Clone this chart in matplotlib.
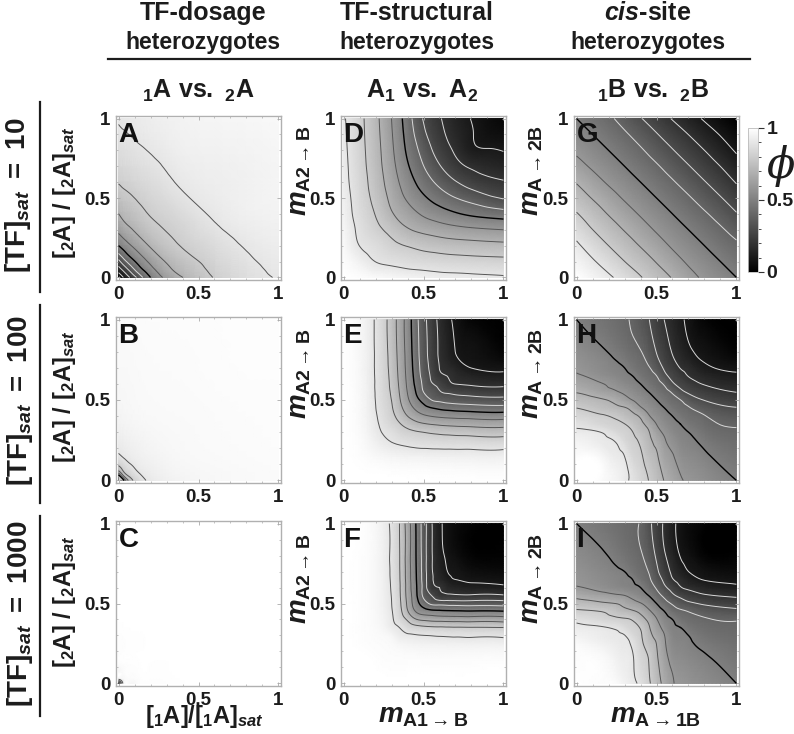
import numpy as np
import matplotlib
matplotlib.use('Agg')
import matplotlib.pyplot as plt
import matplotlib.tri as mtri
from matplotlib.cm import ScalarMappable
from matplotlib.colors import Normalize

plt.rcParams['font.family'] = ['Liberation Sans', 'DejaVu Sans']
plt.rcParams['font.weight'] = 'bold'
plt.rcParams['mathtext.fontset'] = 'custom'
plt.rcParams['mathtext.rm'] = 'Liberation Sans:bold'
plt.rcParams['mathtext.bf'] = 'Liberation Sans:bold'
plt.rcParams['mathtext.it'] = 'Liberation Sans:italic:bold'
plt.rcParams['mathtext.bfit'] = 'Liberation Sans:italic:bold'

# grid positions of the phi tables (same on both axes)
axis_conc = [0, .03, .07, .12, .2, .35, .6, 1]
axis_even = [0, .1, .2, .3, .4, .5, .6, .7, .8, .9, 1]
axis_fine = [0, .15, .25, .3, .35, .4, .45, .5, .55, .6, .65, .7, .8, 1]

# phi x 1000, lower triangle only, panels are symmetric
phi_a = [[0],
         [100, 175],
         [200, 275, 375],
         [320, 400, 480, 550],
         [500, 540, 590, 640, 710],
         [665, 695, 720, 750, 790, 830],
         [805, 815, 825, 840, 860, 900, 930],
         [905, 910, 915, 920, 930, 945, 960, 975]]
phi_b = [[0],
         [450, 700],
         [740, 820, 870],
         [850, 880, 910, 930],
         [915, 925, 935, 945, 957],
         [950, 955, 960, 965, 970, 975],
         [970, 970, 972, 975, 978, 980, 985],
         [980, 980, 982, 983, 985, 986, 988, 990]]
phi_c = [[400],
         [940, 975],
         [975, 985, 990],
         [985, 990, 993, 995],
         [990, 993, 995, 996, 997],
         [995, 996, 997, 997, 998, 998],
         [997, 997, 998, 998, 998, 999, 999],
         [998, 998, 998, 999, 999, 999, 999, 999]]
phi_d = [[1000],
         [990, 944],
         [978, 899, 865],
         [965, 880, 825, 769],
         [953, 864, 796, 710, 643],
         [942, 853, 772, 675, 586, 515],
         [930, 844, 756, 650, 546, 454, 374],
         [925, 838, 744, 631, 511, 402, 307, 231],
         [920, 833, 737, 618, 483, 362, 257, 186, 120],
         [915, 829, 731, 608, 463, 322, 226, 161, 106, 70],
         [910, 826, 726, 600, 447, 292, 208, 144, 97, 60, 30]]
phi_e = [[1000],
         [999, 982],
         [999, 965, 912],
         [999, 957, 894, 875],
         [999, 952, 878, 843, 807],
         [998, 948, 866, 822, 767, 700],
         [998, 945, 857, 809, 732, 651, 585],
         [998, 944, 851, 799, 710, 616, 535, 464],
         [998, 942, 847, 788, 696, 597, 503, 400, 356],
         [998, 941, 843, 780, 686, 585, 482, 379, 309, 268],
         [997, 940, 841, 774, 679, 577, 468, 364, 286, 220, 199],
         [997, 939, 838, 769, 674, 571, 459, 354, 272, 199, 174, 148],
         [996, 938, 835, 763, 667, 564, 448, 343, 258, 188, 143, 99, 73],
         [995, 937, 831, 756, 660, 556, 437, 333, 248, 178, 122, 82, 20, 10]]
phi_f = [[1000],
         [1000, 1000],
         [1000, 989, 982],
         [1000, 987, 976, 962],
         [1000, 986, 961, 927, 899],
         [1000, 986, 953, 913, 855, 787],
         [1000, 986, 948, 906, 831, 710, 600],
         [1000, 985, 944, 901, 820, 682, 550, 450],
         [999, 985, 942, 898, 813, 670, 530, 383, 300],
         [999, 985, 941, 894, 810, 664, 521, 368, 226, 200],
         [999, 985, 940, 891, 807, 660, 516, 362, 217, 162, 119],
         [999, 985, 939, 889, 805, 658, 513, 359, 213, 144, 100, 90],
         [999, 985, 937, 887, 803, 655, 509, 356, 211, 129, 85, 60, 20],
         [999, 985, 936, 883, 800, 652, 506, 354, 209, 118, 75, 45, 19, 3]]
phi_g = [[1000],
         [957, 910],
         [915, 858, 800],
         [863, 801, 748, 695],
         [806, 750, 695, 642, 591],
         [750, 695, 642, 590, 545, 500],
         [694, 640, 588, 544, 500, 455, 409],
         [635, 586, 543, 500, 455, 410, 358, 305],
         [583, 542, 500, 456, 411, 359, 305, 253, 200],
         [542, 500, 457, 413, 362, 306, 252, 199, 144, 95],
         [500, 458, 417, 365, 306, 250, 194, 139, 90, 45, 0]]
phi_h = [[1000],
         [985, 970],
         [949, 918, 893],
         [918, 900, 851, 827],
         [883, 843, 816, 802, 766],
         [842, 813, 782, 753, 723, 685],
         [800, 754, 723, 707, 669, 611, 571],
         [747, 713, 670, 635, 599, 566, 533, 500],
         [695, 643, 608, 585, 556, 528, 500, 464, 429],
         [653, 607, 567, 544, 522, 500, 465, 429, 388, 315],
         [611, 565, 532, 516, 500, 467, 434, 401, 326, 274, 234],
         [589, 545, 515, 500, 470, 440, 410, 352, 288, 241, 197, 173],
         [559, 515, 476, 453, 429, 405, 355, 297, 245, 194, 155, 117, 77],
         [500, 455, 426, 411, 389, 347, 305, 252, 198, 157, 116, 82, 20, 10]]
phi_i = [[1000],
         [988, 983],
         [980, 945, 921],
         [950, 926, 910, 902],
         [921, 907, 887, 857, 827],
         [881, 845, 822, 810, 793, 740],
         [816, 800, 758, 736, 714, 680, 622],
         [744, 717, 698, 668, 637, 607, 556, 500],
         [673, 637, 613, 601, 568, 534, 500, 438, 378],
         [607, 571, 542, 528, 514, 500, 446, 390, 318, 260],
         [589, 551, 525, 513, 500, 457, 415, 350, 276, 206, 173],
         [576, 538, 513, 500, 466, 433, 398, 321, 245, 182, 136, 100],
         [551, 513, 478, 455, 433, 410, 361, 286, 210, 149, 96, 71, 20],
         [500, 462, 437, 424, 411, 393, 327, 256, 184, 119, 79, 50, 19, 3]]

contour_levels = [.1, .2, .3, .4, .5, .6, .7, .8, .9]
contour_colors = ['#d8d8d8', '#d8d8d8', '#d8d8d8', '#d8d8d8', '#000000', '#555555', '#555555', '#555555', '#555555']
contour_widths = [.7, .7, .7, .7, 1.0, .7, .7, .7, .7]

W, H = 794, 734
fig = plt.figure(figsize=(W / 100, H / 100), dpi=100)
DARK = '#1c1c1c'


def px_axes(x0, y0, x1, y1):
    return fig.add_axes([x0 / W, 1 - y1 / H, (x1 - x0) / W, (y1 - y0) / H])


def ftext(x, y, s, **kw):
    kw.setdefault('ha', 'center')
    kw.setdefault('va', 'center')
    kw.setdefault('color', DARK)
    return fig.text(x / W, 1 - y / H, s, **kw)


def unfold(rows):
    n = len(rows)
    z = np.zeros((n, n))
    for i, row in enumerate(rows):
        for j, v in enumerate(row):
            z[i, j] = z[j, i] = v / 1000
    return z


def panel(box, axis, rows, letter):
    ax = px_axes(*box)
    xx, yy = np.meshgrid(axis, axis)
    tr = mtri.Triangulation(xx.ravel(), yy.ravel())
    fine, zf = mtri.UniformTriRefiner(tr).refine_field(unfold(rows).ravel(), subdiv=3)
    zf = np.clip(zf, 0, 1)
    ax.tripcolor(fine, zf, shading='gouraud', cmap='gray', vmin=0, vmax=1)
    ax.tricontour(fine, zf, levels=contour_levels, colors=contour_colors, linewidths=contour_widths)
    ax.set_xlim(-.016, 1.016)
    ax.set_ylim(-.016, 1.016)
    ax.set_xticks([0, .5, 1])
    ax.set_xticklabels(['0', '0.5', '1'])
    ax.set_yticks([0, .5, 1])
    ax.set_yticklabels(['0', '0.5', '1'])
    ax.set_xticks(np.arange(0, 1.01, .1), minor=True)
    ax.set_yticks(np.arange(0, 1.01, .1), minor=True)
    ax.tick_params(which='major', direction='in', length=3, width=.6, color='#aaaaaa', top=True, right=True,
                   labelsize=13.5, labelcolor=DARK, pad=4)
    ax.tick_params(which='minor', direction='in', length=1.5, width=.5, color='#aaaaaa', top=True, right=True)
    for s in ax.spines.values():
        s.set_color('#b0b0b0')
        s.set_linewidth(1)
    ax.text(.015, .965, letter, transform=ax.transAxes, ha='left', va='top', fontsize=20, color='#111111')
    return ax


col_x = [(116, 281), (341, 506), (574, 739)]
row_y = [(116, 280), (317, 483), (521, 686)]
tables = [[(axis_conc, phi_a, 'A'), (axis_even, phi_d, 'D'), (axis_even, phi_g, 'G')],
          [(axis_conc, phi_b, 'B'), (axis_fine, phi_e, 'E'), (axis_fine, phi_h, 'H')],
          [(axis_conc, phi_c, 'C'), (axis_fine, phi_f, 'F'), (axis_fine, phi_i, 'I')]]
for r in range(3):
    for c in range(3):
        axis, rows, letter = tables[r][c]
        panel((col_x[c][0], row_y[r][0], col_x[c][1], row_y[r][1]), axis, rows, letter)

# column headers
ftext(203, 13, 'TF-dosage', fontsize=18)
ftext(417, 13, 'TF-structural', fontsize=18)
ftext(648, 13, r'$\mathit{cis}$-site', fontsize=18)
for x in [203, 417, 648]:
    ftext(x, 42, 'heterozygotes', fontsize=16.5)
fig.add_artist(plt.Line2D([108 / W, 750 / W], [1 - 59 / H, 1 - 59 / H], color=DARK, lw=1.6))

ftext(198, 91, r'$\mathbf{{}_{1}A\ vs.\ {}_{2}A}$', fontsize=18)
ftext(422, 91, r'$\mathbf{A_{1}\ vs.\ A_{2}}$', fontsize=18)
ftext(653, 91, r'$\mathbf{{}_{1}B\ vs.\ {}_{2}B}$', fontsize=18)

# row labels
tf_labels = [r'$\mathbf{[TF]}_{\mathit{sat}}\mathbf{\ =\ 10}$', r'$\mathbf{[TF]}_{\mathit{sat}}\mathbf{\ =\ 100}$',
             r'$\mathbf{[TF]}_{\mathit{sat}}\mathbf{\ =\ 1000}$']
for s, x, y in zip(tf_labels, [18, 20, 20], [195, 400, 614]):
    ftext(x, y, s, fontsize=20, rotation=90)
for y0, y1 in [(102, 292), (305, 503), (516, 716)]:
    fig.add_artist(plt.Line2D([40 / W, 40 / W], [1 - y0 / H, 1 - y1 / H], color=DARK, lw=1.6))

conc_label = r'$\mathbf{[{}_{2}A]\ /\ [{}_{2}A]}_{\mathit{sat}}$'
for y in [193, 397, 602]:
    ftext(65, y, conc_label, fontsize=17, rotation=90)
for y in [171, 374, 579]:
    ftext(300, y, r'$\mathit{m}_{\mathbf{A2\rightarrow B}}$', fontsize=20, rotation=90)
    ftext(532, y, r'$\mathit{m}_{\mathbf{A\rightarrow 2B}}$', fontsize=20, rotation=90)

ftext(204, 717, r'$\mathbf{[{}_{1}A]/[{}_{1}A]}_{\mathit{sat}}$', fontsize=17)
ftext(423, 716, r'$\mathit{m}_{\mathbf{A1\rightarrow B}}$', fontsize=20)
ftext(655, 716, r'$\mathit{m}_{\mathbf{A\rightarrow 1B}}$', fontsize=20)

# colour bar
cax = px_axes(748, 128, 758, 272)
cb = fig.colorbar(ScalarMappable(Normalize(0, 1), 'gray'), cax=cax)
cb.set_ticks([0, .5, 1])
cb.set_ticklabels(['0', '0.5', '1'])
cb.set_ticks(np.arange(0, 1.01, .1), minor=True)
cb.ax.tick_params(which='major', length=4, width=.8, color='#333333', labelsize=14, labelcolor=DARK, pad=2)
cb.ax.tick_params(which='minor', length=2, width=.6, color='#333333')
cb.outline.set_edgecolor('#bbbbbb')
cb.outline.set_linewidth(.6)
ftext(781, 166, '\u03d5', fontsize=30, family='DejaVu Serif', style='italic', weight='normal')

fig.savefig('out.png', dpi=100)
